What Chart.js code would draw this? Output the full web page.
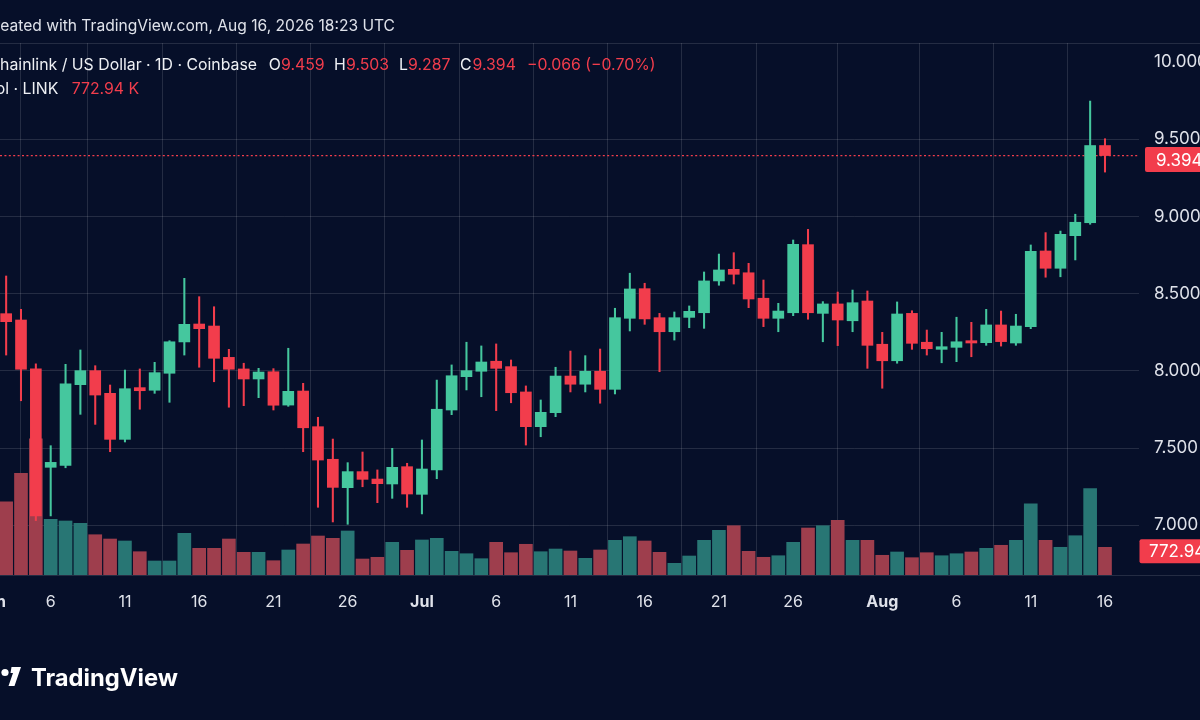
<!DOCTYPE html>
<html>
<head>
<meta charset="utf-8">
<script src="https://cdn.jsdelivr.net/npm/chart.js@4.4.1/dist/chart.umd.min.js"></script>
<style>
  html, body { margin: 0; padding: 0; background: #060f29; overflow: hidden; }
  #wrap { width: 1200px; height: 720px; position: relative; }
</style>
</head>
<body>
<div id="wrap"><canvas id="c"></canvas></div>
<script>
// ---------- DATA ----------
const dates = [
  'Jun 2','Jun 3','Jun 4','Jun 5','Jun 6','Jun 7','Jun 8','Jun 9','Jun 10','Jun 11','Jun 12','Jun 13','Jun 14','Jun 15',
  'Jun 16','Jun 17','Jun 18','Jun 19','Jun 20','Jun 21','Jun 22','Jun 23','Jun 24','Jun 25','Jun 26','Jun 27','Jun 28',
  'Jun 29','Jun 30','Jul 1','Jul 2','Jul 3','Jul 4','Jul 5','Jul 6','Jul 7','Jul 8','Jul 9','Jul 10','Jul 11','Jul 12',
  'Jul 13','Jul 14','Jul 15','Jul 16','Jul 17','Jul 18','Jul 19','Jul 20','Jul 21','Jul 22','Jul 23','Jul 24','Jul 25',
  'Jul 26','Jul 27','Jul 28','Jul 29','Jul 30','Jul 31','Aug 1','Aug 2','Aug 3','Aug 4','Aug 5','Aug 6','Aug 7','Aug 8',
  'Aug 9','Aug 10','Aug 11','Aug 12','Aug 13','Aug 14','Aug 15','Aug 16'
];
// Jun 2 lies off the left edge of the picture (value not readable)
const opens = [null,
  8.370,8.329,8.012,7.375,7.388,7.910,8.001,7.854,7.556,7.891,7.874,7.984,8.187,
  8.303,8.290,8.087,8.012,7.947,7.994,7.778,7.869,7.638,7.427,7.243,7.347,7.299,
  7.267,7.379,7.200,7.358,7.746,7.962,7.997,8.062,8.027,7.863,7.638,7.729,7.966,7.913,
  7.997,7.880,8.340,8.532,8.344,8.253,8.346,8.376,8.582,8.657,8.635,8.470,8.340,
  8.376,8.817,8.372,8.433,8.324,8.452,8.172,8.065,8.372,8.185,8.139,8.152,8.195,8.182,
  8.297,8.180,8.286,8.776,8.664,8.875,8.959,9.459];
const highs = [null,
  8.614,8.398,8.045,7.515,8.042,8.135,8.033,7.908,8.005,8.012,8.055,8.195,8.599,
  8.480,8.415,8.139,8.049,8.016,8.014,8.146,7.919,7.699,7.558,7.405,7.474,7.358,
  7.498,7.401,7.552,7.940,8.038,8.185,8.161,8.174,8.070,7.902,7.811,8.023,8.128,8.098,
  8.141,8.405,8.632,8.567,8.372,8.381,8.420,8.640,8.756,8.765,8.696,8.588,8.437,
  8.847,8.916,8.448,8.510,8.523,8.517,8.249,8.446,8.389,8.264,8.249,8.347,8.314,8.398,
  8.387,8.366,8.815,8.895,8.905,9.014,9.747,9.503];
const lows = [null,
  8.102,7.806,7.030,7.060,7.372,7.718,7.653,7.476,7.539,7.751,7.854,7.796,8.102,
  8.023,7.929,7.764,7.774,7.826,7.746,7.770,7.476,7.116,7.021,7.006,7.249,7.146,
  7.174,7.116,7.073,7.301,7.716,7.876,7.832,7.742,7.793,7.519,7.573,7.703,7.863,7.863,
  7.790,7.850,8.258,8.301,7.994,8.199,8.279,8.275,8.554,8.562,8.409,8.286,8.253,
  8.357,8.334,8.188,8.163,8.253,8.016,7.887,8.049,8.139,8.102,8.052,8.059,8.091,8.165,
  8.160,8.165,8.273,8.606,8.609,8.718,8.949,9.287];
const closes = [null,
  8.318,8.010,7.060,7.407,7.916,8.001,7.843,7.556,7.884,7.871,7.988,8.188,8.301,
  8.273,8.081,8.010,7.947,7.992,7.777,7.867,7.631,7.422,7.245,7.347,7.297,7.269,
  7.375,7.202,7.364,7.751,7.968,8.001,8.057,8.016,7.858,7.638,7.731,7.966,7.913,7.997,
  7.880,8.344,8.530,8.336,8.253,8.344,8.385,8.582,8.653,8.625,8.465,8.340,8.387,
  8.819,8.376,8.433,8.329,8.441,8.165,8.065,8.368,8.178,8.143,8.156,8.188,8.180,8.297,
  8.189,8.290,8.774,8.664,8.884,8.962,9.459,9.394];
const volumesK = [null,
  2045,2837,3800,1554,1507,1442,1124,1004,949,650,391,391,1163,
  745,745,1004,633,633,399,698,865,1088,1024,1228,446,494,
  912,689,977,1024,661,594,455,912,622,857,650,725,670,466,
  698,968,1069,949,633,326,530,968,1247,1375,661,494,538,
  912,1311,1375,1526,968,968,550,642,483,622,538,594,642,745,
  829,968,1989,968,773,1096,2408,772.94];
const priceTicks = [7.0, 7.5, 8.0, 8.5, 9.0, 9.5, 10.0];
const dateTicks = ['Jun 2','Jun 6','Jun 11','Jun 16','Jun 21','Jun 26','Jul 1','Jul 6','Jul 11','Jul 16','Jul 21','Jul 26','Aug 1','Aug 6','Aug 11','Aug 16'];
const dateTickLabels = ['Jun','6','11','16','21','26','Jul','6','11','16','21','26','Aug','6','11','16'];
const monthLabels = ['Jun','Jul','Aug'];
const lastOHLC = { o: '9.459', h: '9.503', l: '9.287', c: '9.394', chg: '\u22120.066 (\u22120.70%)' };
const lastVolLabel = '772.94 K';

// ---------- STYLE ----------
const BG = '#060f29';
const UP = '#45c79e';
const DOWN = '#f23d4c';
const UP_VOL = '#287674';
const DOWN_VOL = '#9e3e4d';
const GRID = 'rgba(255,255,255,0.12)';
const TXT = '#dfe2ea';
const FONT = 'Inter, "Noto Sans", sans-serif';

const last = dates.length - 1;
const isUp = i => closes[i] >= opens[i];

const wickData = dates.map((d, i) => ({ x: i, y: highs[i] == null ? null : [lows[i], highs[i]] }));
const bodyData = dates.map((d, i) => ({ x: i, y: opens[i] == null ? null : [opens[i], closes[i]] }));
const volData = dates.map((d, i) => ({ x: i, y: volumesK[i] }));
const candleColors = dates.map((d, i) => opens[i] == null ? UP : (isUp(i) ? UP : DOWN));
const volColors = dates.map((d, i) => opens[i] == null ? UP_VOL : (isUp(i) ? UP_VOL : DOWN_VOL));
const tickIdx = dateTicks.map(d => dates.indexOf(d));

function fitSize(ctx, text, width, weight) {
  ctx.font = `${weight} 100px ${FONT}`;
  return 100 * width / ctx.measureText(text).width;
}

const overlay = {
  id: 'overlay',
  beforeDraw(chart) {
    const c = chart.ctx;
    c.save();
    c.fillStyle = BG;
    c.fillRect(0, 0, chart.width, chart.height);
    c.restore();
  },
  beforeDatasetsDraw(chart) {
    const { ctx, chartArea: a, scales: { y } } = chart;
    ctx.save();
    ctx.strokeStyle = GRID;
    ctx.lineWidth = 1;
    ctx.beginPath();
    ctx.moveTo(0, a.top + 0.5); ctx.lineTo(chart.width, a.top + 0.5);
    ctx.moveTo(0, a.bottom + 0.5); ctx.lineTo(chart.width, a.bottom + 0.5);
    ctx.stroke();
    const py = y.getPixelForValue(closes[last]);
    ctx.strokeStyle = DOWN;
    ctx.lineWidth = 1.3;
    ctx.setLineDash([2, 2.4]);
    ctx.beginPath();
    ctx.moveTo(a.left, py); ctx.lineTo(a.right, py);
    ctx.stroke();
    ctx.restore();
  },
  afterDraw(chart) {
    const { ctx, scales: { y, yv } } = chart;
    ctx.save();
    // header line 1
    const s1 = fitSize(ctx, 'eated with TradingView.com, Aug 16, 2026 18:23 UTC', 395, 400);
    ctx.font = `400 ${s1}px ${FONT}`;
    ctx.fillStyle = TXT;
    ctx.textAlign = 'right';
    ctx.textBaseline = 'alphabetic';
    ctx.fillText('Created with TradingView.com, Aug 16, 2026 18:23 UTC', 395, 31);
    // header line 2
    const s2 = fitSize(ctx, 'hainlink / US Dollar \u00b7 1D \u00b7 Coinbase', 257, 400);
    ctx.font = `400 ${s2}px ${FONT}`;
    ctx.fillStyle = '#eef0f4';
    ctx.fillText('Chainlink / US Dollar \u00b7 1D \u00b7 Coinbase', 257, 69.5);
    ctx.textAlign = 'left';
    const parts = [
      ['O', 268.7, '#eef0f4'], [lastOHLC.o, 281, DOWN],
      ['H', 334, '#eef0f4'], [lastOHLC.h, 346, DOWN],
      ['L', 399, '#eef0f4'], [lastOHLC.l, 408, DOWN],
      ['C', 460, '#eef0f4'], [lastOHLC.c, 472.5, DOWN],
      [lastOHLC.chg, 527, DOWN]
    ];
    parts.forEach(([t, x, col]) => { ctx.fillStyle = col; ctx.fillText(t, x, 69.5); });
    // header line 3
    ctx.textAlign = 'right';
    ctx.fillStyle = '#eef0f4';
    ctx.fillText('Vol \u00b7 LINK', 58.3, 94.3);
    ctx.textAlign = 'left';
    ctx.fillStyle = DOWN;
    ctx.fillText(lastVolLabel, 71.7, 94.3);

    // price label box
    const py = y.getPixelForValue(closes[last]) + 4;
    ctx.fillStyle = DOWN;
    ctx.beginPath();
    ctx.roundRect(1145, py - 12.5, 70, 25, 2);
    ctx.fill();
    ctx.fillStyle = '#ffffff';
    ctx.font = `400 17px ${FONT}`;
    ctx.textBaseline = 'middle';
    ctx.fillText(closes[last].toFixed(3), 1156, py + 1);
    // volume label box
    const vy = yv.getPixelForValue(volumesK[last]) + 4;
    ctx.fillStyle = DOWN;
    ctx.beginPath();
    ctx.roundRect(1139.5, vy - 12, 70, 24, 2);
    ctx.fill();
    ctx.fillStyle = '#ffffff';
    ctx.fillText(volumesK[last].toFixed(2), 1149, vy + 1);

    // TradingView logo
    ctx.fillStyle = '#ffffff';
    ctx.beginPath();
    ctx.arc(5, 672.5, 3.6, 0, Math.PI * 2);
    ctx.fill();
    ctx.beginPath();
    ctx.moveTo(11.5, 667); ctx.lineTo(21, 667); ctx.lineTo(14.5, 686); ctx.lineTo(8.5, 686); ctx.lineTo(13, 673); ctx.lineTo(10.5, 673);
    ctx.closePath();
    ctx.fill();
    const s3 = fitSize(ctx, 'TradingView', 147, 700);
    ctx.font = `700 ${s3}px ${FONT}`;
    ctx.textBaseline = 'alphabetic';
    ctx.textAlign = 'left';
    ctx.fillText('TradingView', 31, 685.5);
    ctx.restore();
  }
};

const ctx = document.getElementById('c').getContext('2d');
new Chart(ctx, {
  type: 'bar',
  data: {
    datasets: [
      { label: 'Volume', data: volData, yAxisID: 'yv', backgroundColor: volColors, barThickness: 13, grouped: false, order: 3 },
      { label: 'Wick', data: wickData, yAxisID: 'y', backgroundColor: candleColors, barThickness: 1.4, grouped: false, order: 2 },
      { label: 'Body', data: bodyData, yAxisID: 'y', backgroundColor: candleColors, barThickness: 11, grouped: false, minBarLength: 1.5, order: 1 }
    ]
  },
  options: {
    responsive: true,
    maintainAspectRatio: false,
    animation: false,
    devicePixelRatio: 1,
    layout: { padding: { top: 43, left: 0, right: 0, bottom: 0 } },
    plugins: { legend: { display: false }, tooltip: { enabled: false }, title: { display: false } },
    scales: {
      x: {
        type: 'linear',
        min: 0.586,
        max: 77.29,
        offset: false,
        border: { display: false },
        grid: { color: GRID, drawTicks: false, lineWidth: 1 },
        afterBuildTicks: s => { s.ticks = tickIdx.map(v => ({ value: v })); },
        afterFit: s => { s.height = 145; s.paddingLeft = 0; s.paddingRight = 0; },
        ticks: {
          autoSkip: false,
          maxRotation: 0,
          padding: 18,
          color: TXT,
          font: c => ({ family: FONT, size: 16, weight: monthLabels.includes(c.tick && c.tick.label) ? '700' : '400' }),
          callback: v => { const k = tickIdx.indexOf(v); return k >= 0 ? dateTickLabels[k] : ''; }
        }
      },
      y: {
        type: 'linear',
        position: 'right',
        min: 6.6775,
        max: 10.123,
        border: { display: false },
        grid: { color: c => (c.tick && c.tick.value >= 10) ? 'rgba(0,0,0,0)' : GRID, drawTicks: false },
        afterBuildTicks: s => { s.ticks = priceTicks.map(v => ({ value: v })); },
        afterFit: s => { s.width = 61; s.paddingTop = 0; s.paddingBottom = 0; },
        ticks: {
          padding: 15,
          color: TXT,
          font: { family: FONT, size: 17 },
          callback: v => Number(v).toFixed(3)
        }
      },
      yv: {
        type: 'linear',
        display: false,
        min: 0,
        max: 14845,
        grid: { display: false }
      }
    }
  },
  plugins: [overlay]
});
</script>
</body>
</html>
